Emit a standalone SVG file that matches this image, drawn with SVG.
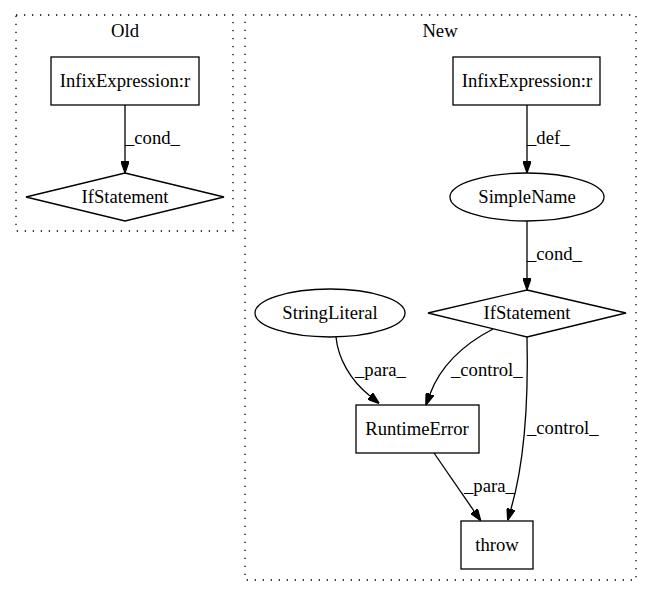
<svg xmlns="http://www.w3.org/2000/svg" width="652" height="596" viewBox="0 0 652 596">
<style>
text{font-family:"Liberation Serif","Times New Roman",serif;font-size:18.67px;fill:#000}
.c{text-anchor:middle}
.cl{fill:none;stroke:#000;stroke-width:1.3;stroke-dasharray:1.3,6.7}
.n{fill:none;stroke:#000;stroke-width:1.3}
.e{fill:none;stroke:#000;stroke-width:1.3;marker-end:url(#ah)}
</style>
<defs>
<marker id="ah" viewBox="0 0 10 7" refX="0" refY="3.5" markerWidth="12" markerHeight="8.4" markerUnits="userSpaceOnUse" orient="auto">
<path d="M0,0 L10,3.5 L0,7 Z" fill="#000" stroke="#000" stroke-width="1"/>
</marker>
</defs>
<rect width="652" height="596" fill="#fff"/>
<g id="cluster_old">
<rect class="cl" x="16" y="15" width="217" height="216"/>
<text class="c" x="125" y="37">Old</text>
</g>
<g id="cluster_new">
<rect class="cl" x="245" y="15" width="391" height="565"/>
<text class="c" x="440" y="37">New</text>
</g>
<g id="old_infix">
<rect class="n" x="51" y="57" width="148" height="48"/>
<text class="c" x="125" y="87">InfixExpression:r</text>
</g>
<g id="old_if">
<polygon class="n" points="125,173 224,197 125,221 26,197"/>
<text class="c" x="125" y="203">IfStatement</text>
</g>
<g id="new_infix">
<rect class="n" x="453" y="57" width="147" height="48"/>
<text class="c" x="527" y="87">InfixExpression:r</text>
</g>
<g id="simplename">
<ellipse class="n" cx="527" cy="197" rx="77" ry="24"/>
<text class="c" x="527" y="203">SimpleName</text>
</g>
<g id="new_if">
<polygon class="n" points="527,290 626,313 527,337 428,313"/>
<text class="c" x="527" y="319">IfStatement</text>
</g>
<g id="stringliteral">
<ellipse class="n" cx="330" cy="313" rx="75" ry="24"/>
<text class="c" x="330" y="319">StringLiteral</text>
</g>
<g id="runtimeerror">
<rect class="n" x="356" y="405" width="123" height="48"/>
<text class="c" x="417" y="435">RuntimeError</text>
</g>
<g id="throw">
<rect class="n" x="461" y="521" width="72" height="48"/>
<text class="c" x="497" y="551">throw</text>
</g>
<g id="edges">
<path class="e" d="M125,105 L125,161"/>
<text x="125" y="144">_cond_</text>
<path class="e" d="M527,105 L527,161"/>
<text x="527" y="144">_def_</text>
<path class="e" d="M527,221 L527,278"/>
<text x="527" y="260">_cond_</text>
<path class="e" d="M336,337 C338,358 350,380 370,396"/>
<text x="355" y="376">_para_</text>
<path class="e" d="M493,329 C468,342 442,362 430,394"/>
<text x="451" y="376">_control_</text>
<path class="e" d="M527,337 C528,380 528,450 511,509"/>
<text x="527" y="434">_control_</text>
<path class="e" d="M434,453 L474,511"/>
<text x="464" y="492">_para_</text>
</g>
</svg>
